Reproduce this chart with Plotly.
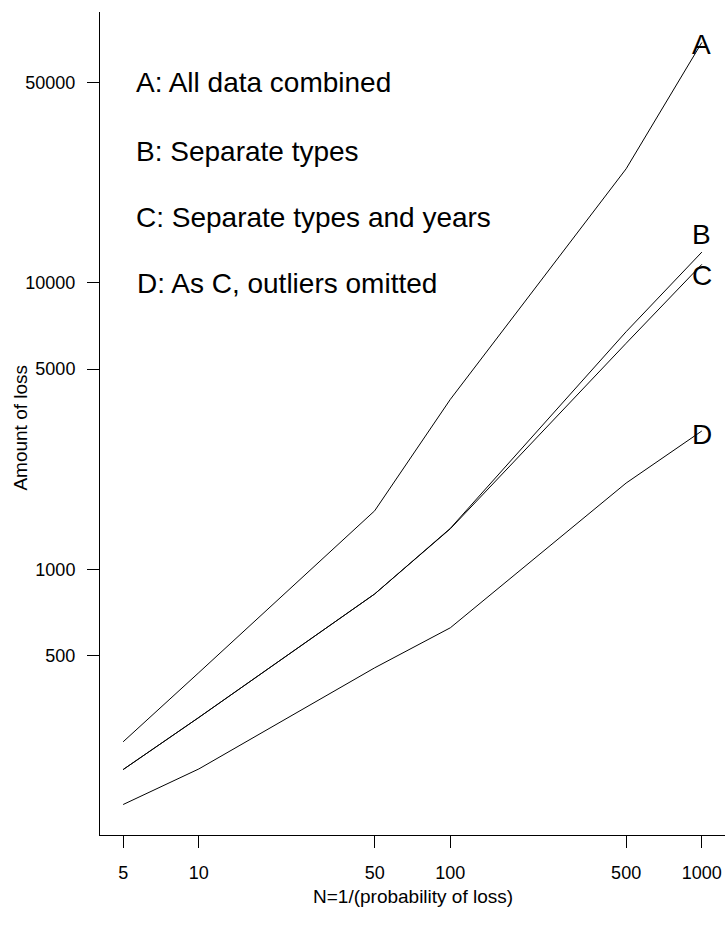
import math
import plotly.graph_objects as go

# Return period N = 1/(probability of loss)
n_values = [5, 10, 50, 100, 500, 1000]

# Estimated amount of loss for each approach
loss_a = [250, 436, 1600, 3920, 25000, 69000]   # all data combined
loss_b = [200, 304, 820, 1390, 6750, 12800]     # separate types
loss_c = [200, 304, 820, 1385, 6150, 11600]     # separate types and years
loss_d = [151, 201, 453, 625, 2000, 3040]       # as C, outliers omitted

series_names = ["A", "B", "C", "D"]
series_values = [loss_a, loss_b, loss_c, loss_d]

legend_lines = [
    "A: All data combined",
    "B: Separate types",
    "C: Separate types and years",
    "D: As C, outliers omitted",
]

x_ticks = [5, 10, 50, 100, 500, 1000]
y_ticks = [500, 1000, 5000, 10000, 50000]

x_title = "N=1/(probability of loss)"
y_title = "Amount of loss"

FONT = "Liberation Sans, Arial, Helvetica, sans-serif"

fig = go.Figure()
for name, vals in zip(series_names, series_values):
    fig.add_trace(go.Scatter(
        x=n_values, y=vals, mode="lines", name=name,
        line=dict(color="black", width=1), showlegend=False,
    ))


def padded_log_range(values, frac=0.04):
    lo = math.log10(min(values))
    hi = math.log10(max(values))
    pad = (hi - lo) * frac
    return [lo - pad, hi + pad]


all_losses = [v for s in series_values for v in s]
x_range = padded_log_range(n_values)
y_range = padded_log_range(all_losses)

# Curve labels at the right-hand end of each line (log10 positions)
end_label_y = {"A": 4.832, "B": 4.168, "C": 4.024, "D": 3.469}
for name in series_names:
    fig.add_annotation(
        x=math.log10(1000), y=end_label_y[name], xref="x", yref="y",
        text=name, showarrow=False, xanchor="center", yanchor="middle",
        font=dict(family=FONT, size=28, color="black"),
    )

# Key text in the upper-left corner
key_x = [0.742, 0.742, 0.742, 0.748]
key_y = [4.699, 4.458, 4.227, 3.998]
for txt, kx, ky in zip(legend_lines, key_x, key_y):
    fig.add_annotation(
        x=kx, y=ky, xref="x", yref="y", text=txt, showarrow=False,
        xanchor="left", yanchor="middle",
        font=dict(family=FONT, size=28, color="black"),
    )

# Axis titles
fig.add_annotation(
    x=0.5, y=-0.0753, xref="paper", yref="paper", text=x_title,
    showarrow=False, xanchor="center", yanchor="middle",
    font=dict(family=FONT, size=19, color="black"),
)
fig.add_annotation(
    x=-0.1264, y=0.495, xref="paper", yref="paper", text=y_title,
    showarrow=False, xanchor="center", yanchor="middle", textangle=-90,
    font=dict(family=FONT, size=19, color="black"),
)

axis_common = dict(
    type="log",
    showgrid=False,
    zeroline=False,
    showline=True,
    linecolor="black",
    linewidth=1,
    ticks="outside",
    ticklen=12,
    tickwidth=1,
    tickcolor="black",
    tickfont=dict(family=FONT, size=18, color="black"),
)

fig.update_xaxes(
    **axis_common,
    range=x_range,
    tickvals=x_ticks,
    ticktext=[str(v) for v in x_ticks],
    ticklabelstandoff=9,
)
fig.update_yaxes(
    **axis_common,
    range=y_range,
    tickvals=y_ticks,
    ticktext=[str(v) for v in y_ticks],
    ticklabelstandoff=8,
)

fig.update_layout(
    width=725,
    height=925,
    margin=dict(l=100, r=0, t=12, b=90, autoexpand=False),
    paper_bgcolor="white",
    plot_bgcolor="white",
)

fig.write_html("out.html")
